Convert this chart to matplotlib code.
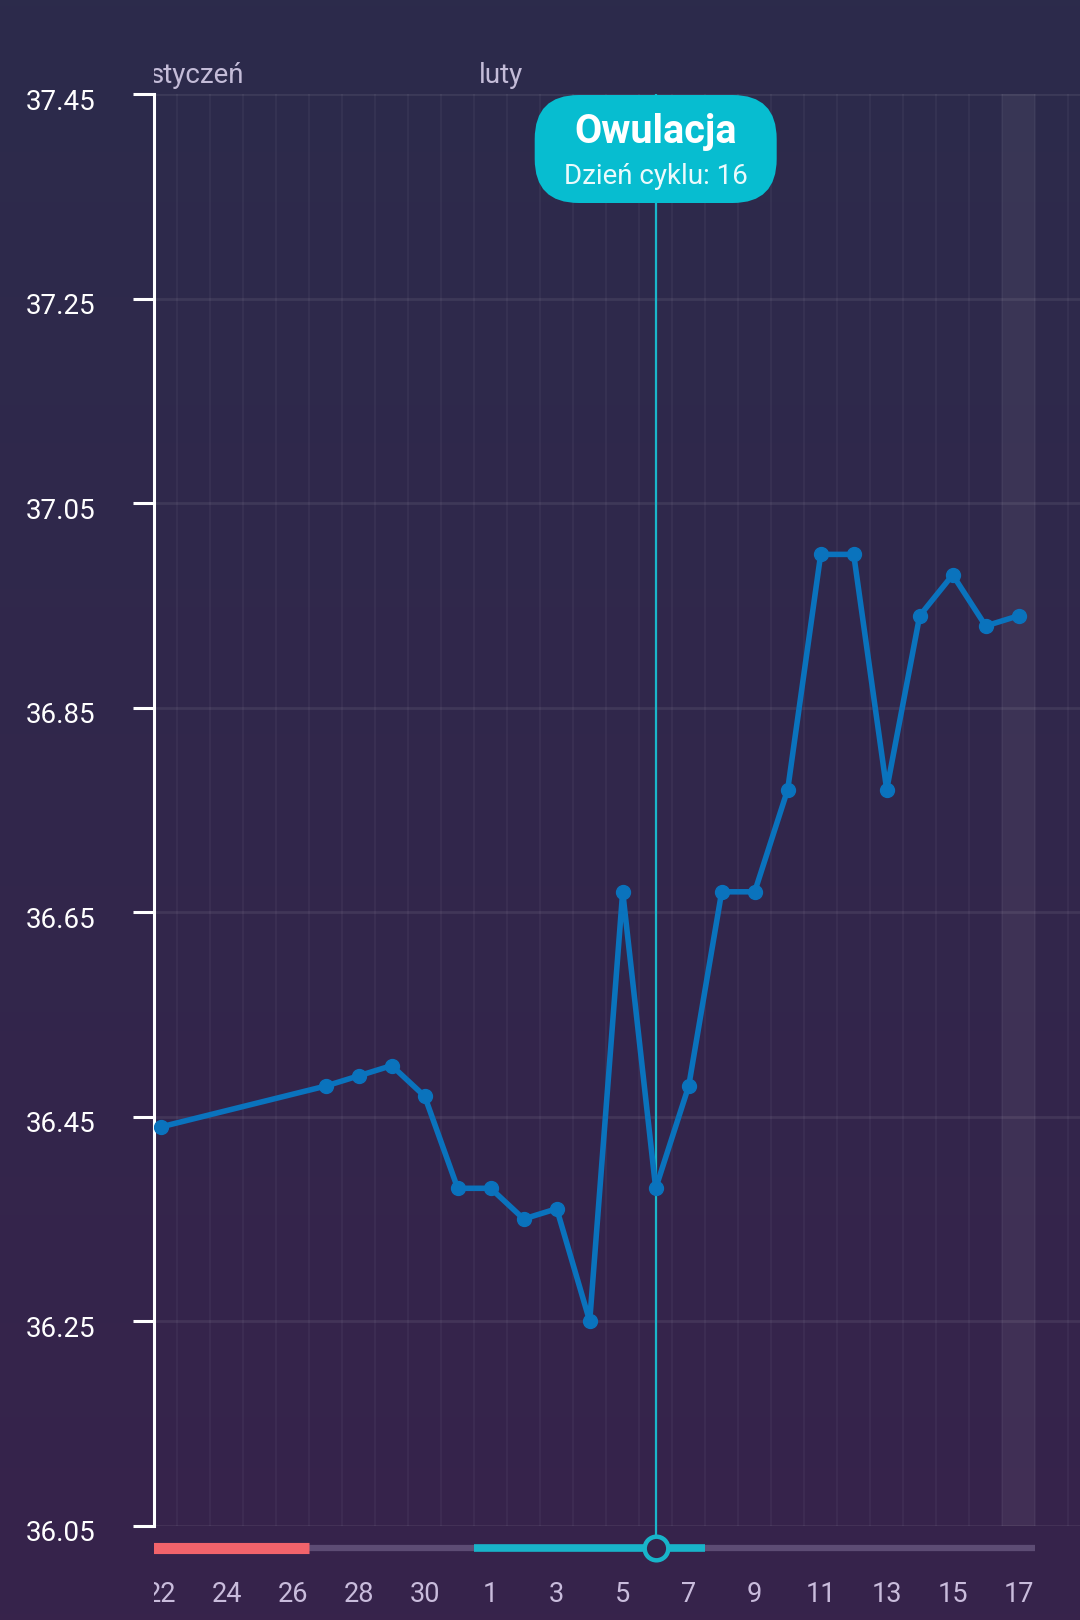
import numpy as np
import matplotlib
matplotlib.use("Agg")
import matplotlib.pyplot as plt
from matplotlib.patches import FancyBboxPatch
from matplotlib.colors import LinearSegmentedColormap
from matplotlib.transforms import ScaledTranslation

plt.rcParams['font.family'] = ['Roboto', 'DejaVu Sans']

# ---------------- data ----------------
day_labels = ["22", "23", "24", "25", "26", "27", "28", "29", "30", "31",
              "1", "2", "3", "4", "5", "6", "7", "8", "9", "10",
              "11", "12", "13", "14", "15", "16", "17"]
temperatures = [36.44, None, None, None, None, 36.48, 36.49, 36.50, 36.47, 36.38,
                36.38, 36.35, 36.36, 36.25, 36.67, 36.38, 36.48, 36.67, 36.67, 36.77,
                37.00, 37.00, 36.77, 36.94, 36.98, 36.93, 36.94]
y_ticks = [36.05, 36.25, 36.45, 36.65, 36.85, 37.05, 37.25, 37.45]
shown_day_labels = ["22", "24", "26", "28", "30", "1", "3", "5", "7", "9", "11", "13", "15", "17"]
month_names = ["styczeń", "luty"]
month_first_day = [None, "1"]          # styczeń starts before visible range
period_days = ("22", "26")
fertile_days = ("1", "7")
ovulation_day = "6"
today_day = "17"
tooltip_title = "Owulacja"
tooltip_sub = "Dzień cyklu: 16"

# ---------------- figure ----------------
W, H, DPI = 1080, 1620, 100
fig = plt.figure(figsize=(W / DPI, H / DPI), dpi=DPI)

# background gradient
bg = fig.add_axes([0, 0, 1, 1], zorder=-10)
cmap = LinearSegmentedColormap.from_list("bg", ["#2c2b4b", "#37234b"])
bg.imshow(np.linspace(0, 1, 256).reshape(-1, 1), cmap=cmap, aspect='auto',
          extent=[0, 1, 0, 1], origin='upper')
bg.set_axis_off()

left_px, top_px, bottom_px = 154.0, 94.3, 1525.7
ax_left = left_px / W
ax_bottom = 1 - bottom_px / H
ax_top = 1 - top_px / H
ax = fig.add_axes([ax_left, ax_bottom, 1 - ax_left, ax_top - ax_bottom])
ax.set_facecolor('none')

n = len(day_labels)
idx = np.arange(n)
x0_px, step_px = 160.7, 33.0
xlim = ((left_px - x0_px) / step_px, (W - x0_px) / step_px)
ax.set_xlim(*xlim)
ax.set_ylim(y_ticks[0], y_ticks[-1])

# grid
for b in np.arange(-1, n + 1) + 0.5:
    ax.axvline(b, color='white', alpha=0.04, lw=1.5, zorder=0)
for yt in y_ticks:
    ax.axhline(yt, color='white', alpha=0.075, lw=2, zorder=0)

# today highlight
t = day_labels.index(today_day)
ax.axvspan(t - 0.5, t + 0.5, color='white', alpha=0.06, lw=0, zorder=0)

# ovulation line
ov = day_labels.index(ovulation_day)
ax.axvline(ov, color='#1ab6ca', lw=1.6, zorder=2)

# temperature line
xs = [i for i, v in zip(idx, temperatures) if v is not None]
ys = [v for v in temperatures if v is not None]
ax.plot(xs, ys, color='#0a73bd', lw=4.0, marker='o', markersize=10, zorder=3,
        solid_joinstyle='round')

# axes styling
for s in ['top', 'right', 'bottom']:
    ax.spines[s].set_visible(False)
ax.spines['left'].set_color('white')
ax.spines['left'].set_linewidth(2.2)
ax.set_yticks(y_ticks)
ax.set_yticklabels([f"{v:.2f}" for v in y_ticks])
ax.tick_params(axis='y', colors='white', length=15, width=2.2, pad=27, labelsize=20)
ax.set_xticks([])
shift = ScaledTranslation(0, -5 / DPI, fig.dpi_scale_trans)
for lab in ax.get_yticklabels():
    lab.set_transform(lab.get_transform() + shift)

# ---------------- bottom strip ----------------
strip = fig.add_axes([ax_left, 0, 1 - ax_left, ax_bottom])
strip.set_xlim(*xlim)
strip.set_ylim(0, 1)
strip.set_axis_off()
bar_y = (H - 1548) / (H - bottom_px)
lab_y = (H - 1594) / (H - bottom_px)
strip.plot([xlim[0], t + 0.5], [bar_y, bar_y], color='#5d4c74', lw=4.5,
           solid_capstyle='butt', zorder=1)
p0, p1 = day_labels.index(period_days[0]), day_labels.index(period_days[1])
strip.plot([p0 - 0.5, p1 + 0.5], [bar_y, bar_y], color='#f2636b', lw=8,
           solid_capstyle='butt', zorder=2)
f0, f1 = day_labels.index(fertile_days[0]), day_labels.index(fertile_days[1])
strip.plot([f0 - 0.5, f1 + 0.5], [bar_y, bar_y], color='#18b4c9', lw=5.5,
           solid_capstyle='butt', zorder=2)
strip.plot([ov, ov], [1, bar_y], color='#1ab6ca', lw=1.6, zorder=2)
strip.plot([ov], [bar_y], marker='o', markersize=17, markerfacecolor='#35244b',
           markeredgecolor='#18b4c9', markeredgewidth=3.2, zorder=3)
for lab in shown_day_labels:
    strip.text(day_labels.index(lab), lab_y, lab, ha='center', va='center',
               fontsize=19.5, color='#c9bcdc', clip_on=True)

# ---------------- month labels strip ----------------
top = fig.add_axes([ax_left, ax_top, 1 - ax_left, 1 - ax_top])
top.set_xlim(*xlim)
top.set_ylim(0, 1)
top.set_axis_off()
base_y = (top_px - 83) / top_px
for name, first in zip(month_names, month_first_day):
    if first is None:
        xm = (150 - x0_px) / step_px
    else:
        xm = day_labels.index(first) - 0.5 + 0.14
    top.text(xm, base_y, name, ha='left', va='baseline', fontsize=20,
             color='#c4bcd8', clip_on=True)

# ---------------- tooltip ----------------
cx_px = ax.transData.transform((ov, y_ticks[-1]))[0]
bw, bh = 242, 108
by_top = 95
box = FancyBboxPatch(((cx_px - bw / 2) / DPI, (H - by_top - bh) / DPI), bw / DPI, bh / DPI,
                     boxstyle="round,pad=0,rounding_size=0.44",
                     transform=fig.dpi_scale_trans, facecolor='#07bdd0',
                     edgecolor='none', zorder=20)
fig.add_artist(box)
fig.text(cx_px / DPI, (H - 132) / DPI, tooltip_title, transform=fig.dpi_scale_trans,
         ha='center', va='center', fontsize=28.5, fontweight='bold', color='white', zorder=21)
fig.text(cx_px / DPI, (H - 176) / DPI, tooltip_sub, transform=fig.dpi_scale_trans,
         ha='center', va='center', fontsize=20, color='#eafafc', zorder=21)

fig.savefig('out.png', dpi=DPI)
